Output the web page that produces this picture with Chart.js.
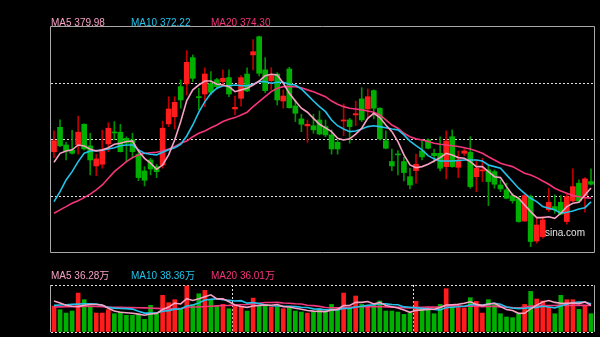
<!DOCTYPE html>
<html>
<head>
<meta charset="utf-8">
<script src="https://cdn.jsdelivr.net/npm/chart.js@4"></script>
<style>
  html, body { margin: 0; padding: 0; background: #000; }
  #wrap { position: relative; width: 600px; height: 337px; overflow: hidden; background: #000; }
  canvas { position: absolute; left: 0; }
  .lbl { position: absolute; font: 10px "Liberation Sans", "Noto Sans CJK SC", sans-serif; line-height: 10px; white-space: nowrap; }
</style>
</head>
<body>
<div id="wrap">
  <canvas id="priceChart" width="600" height="256" style="top:0"></canvas>
  <canvas id="volChart" width="600" height="77" style="top:260px"></canvas>
  <div class="lbl" id="ma5Lbl" style="left:51px;top:18px;color:#f7a1c4"></div>
  <div class="lbl" id="ma10Lbl" style="left:131px;top:18px;color:#22c3ea"></div>
  <div class="lbl" id="ma20Lbl" style="left:211px;top:18px;color:#f4357a"></div>
  <div class="lbl" id="vma5Lbl" style="left:51px;top:271px;color:#f7a1c4"></div>
  <div class="lbl" id="vma10Lbl" style="left:131px;top:271px;color:#22c3ea"></div>
  <div class="lbl" id="vma20Lbl" style="left:211px;top:271px;color:#f4357a"></div>
  <div class="lbl" style="left:545px;top:228px;color:#e4e4e4">sina.com</div>
</div>
<script>
// daily candles (price)
const opens = [
  400.1, 413.6, 403.8, 401.0, 403.8, 415.3, 403.3, 392.2, 393.1, 404.4,
  411.0, 410.9, 407.5, 406.6, 398.7, 389.4, 395.5, 391.8, 392.7, 415.5,
  419.5, 436.2, 437.7, 452.3, 430.6, 432.1, 437.8, 440.1, 439.0, 441.2,
  423.8, 429.7, 443.2, 453.8, 463.9, 445.5, 439.5, 443.2, 428.2, 446.0,
  425.5, 418.3, 414.4, 414.5, 417.7, 414.0, 409.4, 405.3, 417.1, 417.7,
  420.5, 429.4, 423.8, 434.0, 424.2, 406.2, 394.6, 398.7, 394.6, 386.2,
  389.6, 400.5, 406.6, 399.2, 399.2, 391.8, 408.4, 391.4, 399.2, 399.8,
  386.2, 389.4, 390.0, 389.0, 381.6, 378.9, 375.7, 373.9, 361.6, 375.1,
  350.5, 352.9, 367.8, 369.6, 372.0, 361.3, 372.7, 382.6, 375.7, 383.5
];
const highs = [
  411.6, 417.7, 405.3, 412.0, 419.9, 415.6, 410.3, 398.7, 412.0, 416.2,
  416.8, 415.3, 408.4, 410.3, 401.0, 391.8, 396.4, 393.1, 417.1, 430.6,
  430.6, 439.9, 456.2, 453.8, 435.3, 446.7, 444.5, 440.8, 445.5, 445.5,
  431.0, 442.3, 446.7, 462.3, 464.3, 452.3, 446.7, 444.0, 434.4, 447.0,
  428.8, 420.9, 417.7, 420.9, 422.7, 417.7, 412.2, 406.6, 426.6, 418.6,
  428.2, 435.6, 434.9, 434.4, 424.5, 411.6, 401.6, 400.7, 397.0, 390.9,
  398.7, 406.6, 407.2, 401.6, 408.4, 411.6, 412.2, 400.5, 401.6, 408.4,
  395.5, 396.4, 392.7, 390.0, 384.4, 382.6, 377.0, 375.1, 376.5, 376.1,
  363.1, 364.0, 379.8, 376.1, 375.7, 376.5, 390.5, 384.4, 385.7, 390.5
];
const lows = [
  396.8, 402.9, 395.5, 398.7, 398.7, 401.0, 387.2, 386.8, 390.9, 400.1,
  406.6, 399.9, 394.6, 396.4, 384.0, 381.1, 387.2, 385.7, 390.9, 414.0,
  412.7, 424.2, 431.6, 439.0, 423.3, 425.1, 431.6, 434.9, 436.2, 430.6,
  420.5, 425.3, 433.4, 445.5, 442.1, 432.9, 434.4, 426.0, 424.2, 424.2,
  416.8, 411.2, 405.3, 410.3, 409.4, 408.4, 398.7, 398.7, 409.0, 404.8,
  414.5, 416.8, 418.6, 418.3, 406.6, 401.6, 389.6, 387.2, 383.8, 379.4,
  382.6, 395.5, 401.6, 394.2, 389.4, 385.0, 391.4, 385.7, 397.9, 379.8,
  377.9, 383.5, 370.1, 379.8, 377.9, 373.9, 371.5, 360.9, 361.3, 347.4,
  349.3, 352.0, 366.8, 365.9, 365.0, 359.8, 372.4, 372.0, 366.5, 381.6
];
const closes = [
  406.2, 403.4, 400.5, 399.2, 410.9, 401.6, 395.5, 396.1, 400.5, 413.1,
  410.5, 400.1, 404.8, 400.1, 385.7, 384.2, 390.5, 389.0, 413.1, 423.8,
  427.5, 428.8, 449.7, 440.8, 430.1, 443.2, 433.1, 436.2, 440.8, 432.1,
  424.7, 441.2, 433.8, 455.6, 443.6, 434.0, 442.3, 428.8, 431.0, 424.5,
  421.4, 415.3, 415.3, 412.2, 409.9, 409.4, 401.6, 401.6, 417.7, 414.0,
  421.2, 417.7, 430.6, 424.2, 407.2, 402.0, 392.2, 398.3, 388.5, 381.6,
  393.1, 397.2, 402.0, 397.9, 390.9, 406.0, 391.8, 395.5, 400.5, 380.7,
  390.9, 390.0, 383.5, 382.0, 379.4, 374.2, 372.9, 361.3, 375.7, 350.2,
  359.4, 362.2, 372.0, 367.8, 365.4, 375.1, 380.7, 372.7, 385.0, 382.0
];

// price moving averages as drawn
const ma5 = [
  394.2, 399.2, 400.5, 401.1, 403.8, 403.3, 401.4, 400.5, 401.1, 402.3,
  404.2, 404.8, 405.7, 406.0, 400.5, 396.4, 393.7, 390.3, 392.7, 398.3,
  406.6, 416.8, 428.5, 434.4, 437.1, 439.3, 439.3, 437.5, 437.1, 436.2,
  433.4, 434.4, 435.3, 437.1, 439.3, 442.3, 443.1, 442.7, 438.1, 432.5,
  428.2, 424.2, 422.0, 418.6, 415.3, 413.3, 411.2, 407.5, 406.6, 407.2,
  409.8, 413.1, 418.6, 421.4, 419.0, 414.9, 411.2, 405.7, 398.3, 392.7,
  391.2, 391.8, 393.1, 394.9, 396.8, 399.2, 398.3, 396.8, 396.4, 394.6,
  391.8, 391.8, 389.0, 386.2, 385.7, 380.7, 376.1, 374.2, 370.5, 366.8,
  363.5, 363.5, 364.0, 363.1, 365.9, 369.6, 371.5, 372.0, 376.1, 379.98
];
const ma10 = [
  372.4, 377.9, 384.4, 389.0, 394.6, 399.2, 400.5, 400.7, 400.9, 401.6,
  402.3, 403.4, 403.8, 403.8, 401.1, 399.2, 398.7, 398.3, 399.8, 401.1,
  402.3, 404.2, 408.8, 414.9, 422.0, 427.9, 432.5, 435.3, 436.7, 436.7,
  437.1, 436.7, 436.7, 437.5, 439.0, 439.0, 438.1, 438.6, 438.6, 437.5,
  437.1, 434.9, 431.6, 428.2, 425.1, 422.3, 417.7, 414.5, 412.7, 411.2,
  411.6, 412.7, 414.0, 414.5, 414.0, 413.4, 412.7, 412.2, 409.4, 406.0,
  403.4, 401.1, 397.9, 396.1, 394.9, 394.9, 394.9, 395.2, 395.5, 395.5,
  395.5, 394.9, 392.7, 391.8, 390.9, 387.2, 383.5, 379.8, 377.0, 374.2,
  372.4, 369.6, 368.7, 367.8, 365.9, 366.5, 367.2, 368.3, 369.0, 372.22
];
const ma20 = [
  365.9, 367.8, 369.6, 371.5, 372.9, 374.6, 376.5, 378.9, 381.6, 385.3,
  389.0, 391.8, 394.6, 396.8, 398.3, 399.2, 399.5, 399.8, 400.5, 401.6,
  402.9, 404.8, 406.0, 408.4, 410.3, 411.6, 413.4, 414.9, 416.8, 418.1,
  419.0, 420.5, 422.0, 425.1, 427.9, 430.6, 433.4, 435.3, 436.2, 436.2,
  436.2, 435.6, 434.4, 433.4, 432.0, 430.6, 428.2, 426.4, 425.1, 424.2,
  423.8, 423.3, 422.7, 422.0, 420.5, 417.7, 414.9, 413.1, 410.3, 408.4,
  407.2, 406.6, 405.7, 404.8, 404.2, 403.8, 403.4, 403.0, 402.3, 401.6,
  400.5, 399.2, 397.3, 395.5, 393.7, 392.7, 391.8, 390.0, 388.1, 387.2,
  385.7, 383.8, 382.0, 379.8, 378.3, 377.0, 375.7, 375.1, 374.6, 374.30
];

// volume in 万
const volumes = [
  35.4, 30.4, 25.8, 28.6, 53.0, 44.0, 35.4, 25.8, 25.8, 30.4,
  24.9, 27.2, 22.7, 22.7, 24.0, 17.2, 36.3, 26.3, 49.9, 39.9,
  44.0, 30.8, 62.6, 37.2, 52.1, 56.7, 44.4, 34.9, 37.6, 31.7,
  34.9, 34.9, 28.6, 46.2, 36.3, 37.2, 34.0, 34.0, 31.7, 33.1,
  28.6, 27.2, 25.8, 27.2, 31.7, 27.2, 37.6, 30.4, 53.0, 31.7,
  49.0, 37.6, 36.3, 36.3, 42.2, 28.6, 28.6, 27.2, 24.0, 25.8,
  41.7, 31.7, 30.8, 24.9, 37.6, 58.9, 34.0, 33.1, 32.6, 46.7,
  41.7, 25.8, 44.0, 37.2, 24.9, 20.4, 19.5, 24.9, 37.6, 55.3,
  44.9, 42.2, 34.0, 24.9, 49.9, 44.0, 44.0, 30.8, 36.3, 24.9
];
const volMa5 = [
  42.2, 39.5, 36.5, 35.0, 34.6, 36.4, 37.4, 37.4, 36.8, 32.3,
  28.5, 26.8, 26.2, 25.6, 24.3, 22.8, 24.6, 25.3, 30.7, 33.9,
  39.3, 38.2, 45.4, 42.9, 45.3, 47.9, 50.6, 45.1, 45.1, 41.1,
  36.7, 34.8, 33.5, 35.3, 36.2, 36.6, 36.5, 37.5, 34.6, 34.0,
  32.3, 30.9, 29.3, 28.4, 28.1, 27.8, 29.9, 30.8, 36.0, 36.0,
  40.3, 40.3, 41.5, 38.2, 40.3, 36.2, 34.4, 32.6, 30.1, 26.8,
  29.5, 30.1, 30.8, 31.0, 33.3, 36.8, 37.2, 37.7, 39.2, 41.1,
  37.6, 36.0, 38.2, 39.1, 34.7, 30.5, 29.2, 25.4, 25.5, 31.5,
  36.4, 41.0, 42.8, 40.3, 39.2, 39.0, 39.4, 38.7, 41.0, 36.28
];
const volMa10 = [
  36.3, 36.8, 37.2, 37.6, 38.0, 38.5, 38.5, 38.0, 36.5, 33.5,
  32.5, 32.1, 31.8, 31.2, 28.3, 25.7, 25.7, 25.8, 28.2, 29.1,
  31.1, 31.4, 35.4, 36.8, 39.6, 43.6, 44.4, 45.3, 44.0, 43.2,
  42.3, 42.7, 39.3, 40.2, 38.7, 36.7, 35.7, 35.5, 35.0, 35.1,
  34.5, 33.7, 33.4, 31.5, 31.1, 30.1, 30.4, 30.1, 32.2, 32.1,
  34.1, 35.1, 36.2, 37.1, 38.2, 38.3, 37.4, 37.1, 34.2, 33.6,
  32.9, 32.3, 31.7, 30.6, 30.1, 33.2, 33.7, 34.3, 35.1, 37.2,
  37.2, 36.6, 38.0, 39.2, 37.9, 34.1, 32.6, 31.8, 32.3, 33.1,
  33.5, 35.1, 34.1, 32.9, 35.4, 37.7, 40.2, 40.8, 40.7, 38.36
];
const volMa20 = [
  34.0, 34.2, 34.4, 34.6, 34.8, 34.9, 34.9, 34.7, 34.4, 34.0,
  33.8, 33.6, 33.4, 33.2, 33.0, 32.8, 32.6, 32.2, 31.8, 31.3,
  31.8, 31.8, 33.6, 34.0, 34.0, 34.7, 35.1, 35.6, 36.1, 36.2,
  36.7, 37.1, 37.4, 38.5, 39.2, 40.2, 40.1, 40.4, 39.5, 39.2,
  38.4, 38.2, 36.4, 35.9, 34.9, 33.4, 33.1, 32.8, 33.6, 33.6,
  34.3, 34.4, 34.8, 34.3, 34.7, 34.2, 33.9, 33.6, 33.2, 32.9,
  33.5, 33.7, 34.0, 33.9, 34.2, 35.8, 35.6, 35.7, 34.7, 35.4,
  35.1, 34.5, 34.9, 34.9, 34.0, 33.7, 33.2, 33.1, 33.7, 35.2,
  35.4, 35.9, 36.1, 36.1, 36.7, 35.9, 36.4, 36.3, 36.5, 36.01
];

const priceGrid = [375.1, 406.6, 438.0];
const days = opens.map((_, i) => i + 1);

const C_MA5 = '#f7a1c4', C_MA10 = '#22c3ea', C_MA20 = '#f4357a';
const UP = '#ff1c1c', DOWN = '#00b000';
const UP_WICK = '#c00000', DOWN_WICK = '#009000';
const GRID = '#e2e2e2';
const isUp = closes.map((c, i) => c >= opens[i]);

/* ► frame around the plot area */
const framePlugin = {
  id: 'frame',
  afterDraw(chart, args, opts) {
    const { ctx, chartArea: a } = chart;
    ctx.save();
    ctx.strokeStyle = '#a8a8a8';
    ctx.lineWidth = 1;
    ctx.beginPath();
    if (opts.full) {
      ctx.rect(Math.round(a.left) - 0.5, Math.round(a.top) - 0.5, Math.round(a.right - a.left) + 1, Math.round(a.bottom - a.top) + 1);
    } else {
      ctx.moveTo(Math.round(a.left) - 0.5, a.top);
      ctx.lineTo(Math.round(a.left) - 0.5, a.bottom);
      ctx.moveTo(Math.round(a.right) + 0.5, a.top);
      ctx.lineTo(Math.round(a.right) + 0.5, a.bottom);
    }
    ctx.stroke();
    ctx.restore();
  }
};

function maLine(data, color) {
  return { type: 'line', data, borderColor: color, borderWidth: 1.6, pointRadius: 0, tension: 0, order: 0 };
}

new Chart(document.getElementById('priceChart'), {
  type: 'bar',
  data: {
    labels: days,
    datasets: [
      maLine(ma5, C_MA5),
      maLine(ma10, C_MA10),
      maLine(ma20, C_MA20),
      {
        data: opens.map((o, i) => [o, closes[i]]),
        backgroundColor: isUp.map(u => u ? UP : DOWN),
        barThickness: 5, grouped: false, minBarLength: 1, order: 1
      },
      {
        data: lows.map((l, i) => [l, highs[i]]),
        backgroundColor: isUp.map(u => u ? UP_WICK : DOWN_WICK),
        barThickness: 1, grouped: false, order: 2
      }
    ]
  },
  options: {
    responsive: false,
    animation: false,
    layout: { padding: { left: 51, right: 6, top: 27, bottom: 4 } },
    plugins: { legend: { display: false }, tooltip: { enabled: false }, frame: { full: true } },
    scales: {
      x: { display: false, offset: true },
      y: {
        min: 344.4, max: 469.3,
        afterBuildTicks: s => { s.ticks = priceGrid.map(v => ({ value: v })); },
        ticks: { display: false },
        grid: { color: GRID, lineWidth: 1, drawTicks: false },
        border: { display: false, dash: [2, 2] }
      }
    }
  },
  plugins: [framePlugin]
});

new Chart(document.getElementById('volChart'), {
  type: 'bar',
  data: {
    labels: days,
    datasets: [
      maLine(volMa5, C_MA5),
      maLine(volMa10, C_MA10),
      maLine(volMa20, C_MA20),
      {
        data: volumes,
        backgroundColor: isUp.map(u => u ? UP : DOWN),
        barThickness: 4, grouped: false, order: 1
      }
    ]
  },
  options: {
    responsive: false,
    animation: false,
    layout: { padding: { left: 51, right: 6, top: 25, bottom: 5 } },
    plugins: { legend: { display: false }, tooltip: { enabled: false }, frame: { full: false } },
    scales: {
      x: {
        offset: true,
        ticks: { display: false },
        grid: {
          offset: true, drawTicks: false,
          color: c => (c.index === 30 || c.index === 60) ? GRID : 'transparent'
        },
        border: { display: false, dash: [2, 2] }
      },
      y: {
        min: 0, max: 64,
        afterBuildTicks: s => { s.ticks = [{ value: 0 }, { value: 64 }]; },
        ticks: { display: false },
        grid: { color: GRID, drawTicks: false },
        border: { display: false, dash: [2, 2] }
      }
    }
  },
  plugins: [framePlugin]
});

document.getElementById('ma5Lbl').textContent = 'MA5 ' + ma5[ma5.length - 1].toFixed(2);
document.getElementById('ma10Lbl').textContent = 'MA10 ' + ma10[ma10.length - 1].toFixed(2);
document.getElementById('ma20Lbl').textContent = 'MA20 ' + ma20[ma20.length - 1].toFixed(2);
document.getElementById('vma5Lbl').textContent = 'MA5 ' + volMa5[volMa5.length - 1].toFixed(2) + '万';
document.getElementById('vma10Lbl').textContent = 'MA10 ' + volMa10[volMa10.length - 1].toFixed(2) + '万';
document.getElementById('vma20Lbl').textContent = 'MA20 ' + volMa20[volMa20.length - 1].toFixed(2) + '万';
</script>
</body>
</html>
